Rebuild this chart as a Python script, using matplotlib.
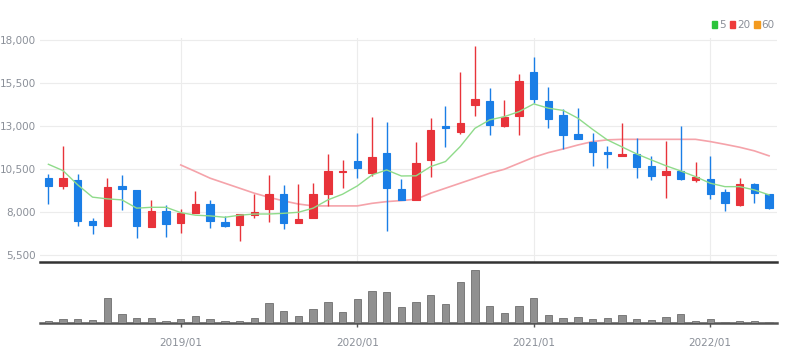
'''
  Monthly candlestick chart with 5/20 moving averages and volume.
'''

import matplotlib
matplotlib.use("Agg")
import matplotlib.pyplot as plt
import matplotlib.patches as mpatches
import numpy as np
import pandas as pd

###########################################################################

# Monthly prices, 2018/04 .. 2022/05

months = pd.date_range("2018-04-01", "2022-05-01", freq="MS")

open_p = [10000, 9510, 9880, 7500, 7210, 9530, 9260, 7110, 8060, 7360,
          7920, 8450, 7400, 7230, 7850, 8160, 9030, 7380, 7630, 9070,
          10350, 10950, 10250, 11450, 9360, 8700, 11020, 12980, 12650, 14220,
          14450, 13000, 13600, 16160, 14450, 13640, 12540, 12090, 11470, 11260,
          11350, 10690, 10150, 10400, 9860, 9940, 9140, 8430, 9630, 9050]
close_p = [9530, 9980, 7460, 7230, 9470, 9340, 7170, 8060, 7320, 7920,
           8450, 7480, 7210, 7860, 7980, 9030, 7380, 7610, 9030, 10360,
           10400, 10540, 11200, 9380, 8700, 10830, 12770, 12880, 13150, 14550,
           13080, 13540, 15620, 14570, 13430, 12480, 12240, 11510, 11350, 11390,
           10640, 10110, 10400, 9900, 10020, 9050, 8520, 9610, 9120, 8210]
high_p = [10200, 11840, 10210, 7650, 10000, 10130, 9260, 8700, 8410, 8190,
          9240, 8700, 7770, 7860, 9030, 10150, 9570, 9610, 9710, 11350,
          11000, 12610, 13500, 13250, 9900, 12050, 13450, 14160, 16140, 17650,
          15190, 14510, 16000, 17030, 15290, 13970, 14070, 12570, 11840, 13160,
          12280, 11280, 12150, 13000, 10930, 11280, 9320, 10000, 9670, 9050]
low_p = [8470, 9340, 7190, 6740, 7200, 8120, 6470, 7110, 6550, 6800,
         7920, 7050, 7150, 6330, 7650, 7440, 6990, 7380, 7630, 8370,
         9380, 9960, 10110, 6900, 8700, 8700, 10020, 11800, 12540, 13580,
         12480, 12920, 12480, 14320, 12860, 11640, 12240, 10690, 10540, 11260,
         9960, 9860, 8800, 9860, 9760, 8760, 8080, 8370, 8540, 8160]

# moving averages as drawn (20 starts at 2019/01)
ma5 = [10770, 10400, 9570, 8860, 8760, 8700, 8220, 8270, 8270, 7960,
       7810, 7770, 7690, 7810, 7880, 7880, 7920, 7980, 8220, 8700,
       9030, 9510, 10150, 10440, 10090, 10100, 10640, 10930, 11800, 12860,
       13350, 13540, 13830, 14280, 14030, 13900, 13450, 12800, 12190, 11780,
       11370, 11020, 10680, 10380, 10050, 9670, 9470, 9470, 9280, 8990]
ma20 = [np.nan] * 9 + [
        10730, 10350, 9960, 9670, 9380, 9090, 8850, 8640, 8460, 8350,
        8350, 8350, 8350, 8500, 8600, 8660, 8740, 9090, 9380, 9670,
        9960, 10250, 10480, 10830, 11180, 11450, 11660, 11890, 12090, 12190,
        12220, 12220, 12220, 12220, 12220, 12220, 12090, 11930, 11760, 11550,
        11260]

# volume (thousand shares)
volume = [50, 120, 110, 80, 750, 270, 160, 160, 70, 130,
          220, 110, 70, 70, 160, 600, 350, 220, 420, 620,
          320, 720, 950, 920, 470, 620, 850, 570, 1220, 1600,
          500, 300, 500, 740, 250, 160, 190, 110, 140, 250,
          110, 100, 170, 270, 60, 110, 40, 60, 50, 30]

yticks = [5500, 8000, 10500, 13000, 15500, 18000]

###########################################################################

UP = "#e8333a"
DOWN = "#1a7ee6"
FONT = ["Liberation Sans Narrow", "DejaVu Sans"]

x = np.arange(len(months))
o = np.array(open_p)
c = np.array(close_p)
colors = [UP if cc >= oo else DOWN for oo, cc in zip(o, c)]

fig = plt.figure(figsize=(7.93, 3.64), dpi=100)
ax = fig.add_axes([40 / 793, 1 - 262 / 364, 737 / 793, 224 / 364])
axv = fig.add_axes([40 / 793, 1 - 323 / 364, 737 / 793, 57 / 364])

# price panel
ax.vlines(x, low_p, high_p, colors=colors, linewidth=1, zorder=3)
ax.bar(x, np.abs(c - o), bottom=np.minimum(o, c), width=0.5,
       color=colors, edgecolor=colors, linewidth=0.8, zorder=4)
ax.plot(x, ma5, color="#8fdb8a", linewidth=1, zorder=5)
ax.plot(x, ma20, color="#f5a3aa", linewidth=1.2, zorder=2)

xlo, xhi = -0.57, 49.54
year_idx = [i for i, m in enumerate(months) if m.month == 1]
year_lbl = [months[i].strftime("%Y/%m") for i in year_idx]

ax.set_xlim(xlo, xhi)
ax.set_ylim(5090, 18110)
ax.set_yticks(yticks)
ax.set_yticklabels(["{:,}".format(v) for v in yticks])
ax.set_xticks(year_idx)
ax.set_xticklabels([])
ax.tick_params(axis="both", length=0, pad=3)
ax.tick_params(axis="y", labelsize=7.5, labelcolor="#8a8f98")
for lab in ax.get_yticklabels():
    lab.set_family(FONT)
ax.grid(True, color="#ececec", linewidth=0.8, zorder=0)
for s in ["top", "right", "left"]:
    ax.spines[s].set_visible(False)
ax.spines["bottom"].set_color("#333333")
ax.spines["bottom"].set_linewidth(1.8)

# volume panel
axv.bar(x, volume, width=0.5, color="#909090", edgecolor="#6e6e6e",
        linewidth=0.6, zorder=3)
axv.set_xlim(xlo, xhi)
axv.set_ylim(0, max(volume) * 1.07)
axv.set_yticks([])
axv.set_xticks(year_idx)
axv.set_xticklabels(year_lbl, fontsize=7.5, color="#8a8f98", family=FONT)
axv.tick_params(axis="x", length=3, width=1, color="#555555", pad=8)
for s in ["top", "right", "left"]:
    axv.spines[s].set_visible(False)
axv.spines["bottom"].set_color("#555555")
axv.spines["bottom"].set_linewidth(1.8)

# legend
handles = [mpatches.Patch(color="#2bc43a", label="5"),
           mpatches.Patch(color="#ee3b3b", label="20"),
           mpatches.Patch(color="#f39a1e", label="60")]
leg = fig.legend(handles=handles, loc="center right",
                 bbox_to_anchor=(780 / 793, 1 - 25 / 364), ncol=3,
                 frameon=False, handlelength=0.5, handleheight=0.75,
                 handletextpad=0.2, columnspacing=0.4, borderpad=0,
                 prop={"family": FONT, "size": 7.5})
for t in leg.get_texts():
    t.set_color("#8a8f98")

fig.savefig("out.png", dpi=100, facecolor="w")
